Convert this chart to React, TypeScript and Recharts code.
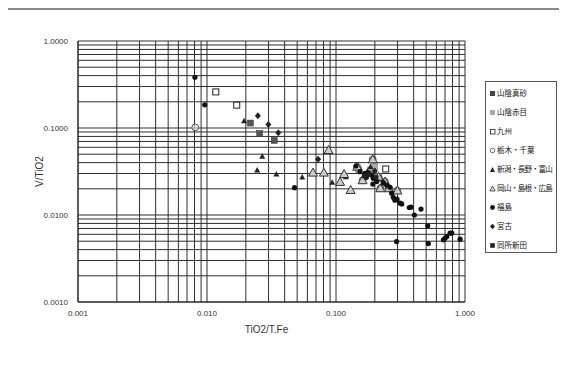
import React from 'react';
import { ScatterChart, Scatter, XAxis, YAxis, ReferenceLine } from 'recharts';

type P = { x: number; y: number };

const sanninMasa: P[] = [
  { x: 0.0217, y: 0.114 }, { x: 0.0256, y: 0.0866 }, { x: 0.0332, y: 0.072 },
];
const sanninAkame: P[] = [
  { x: 0.185, y: 0.033 }, { x: 0.196, y: 0.03 }, { x: 0.2, y: 0.036 },
];
const kyushu: P[] = [
  { x: 0.0117, y: 0.26 }, { x: 0.017, y: 0.183 }, { x: 0.243, y: 0.0338 },
];
const tochigiChiba: P[] = [
  { x: 0.0081, y: 0.1015 }, { x: 0.146, y: 0.0359 }, { x: 0.1926, y: 0.0436 },
  { x: 0.1607, y: 0.0251 }, { x: 0.2136, y: 0.0276 }, { x: 0.2206, y: 0.0203 },
  { x: 0.24, y: 0.0242 }, { x: 0.2576, y: 0.0203 }, { x: 0.299, y: 0.0191 },
  { x: 0.15, y: 0.033 },
];
const niigata: P[] = [
  { x: 0.0194, y: 0.121 }, { x: 0.0268, y: 0.0472 }, { x: 0.0245, y: 0.0329 },
  { x: 0.0345, y: 0.0296 }, { x: 0.0547, y: 0.0274 }, { x: 0.0933, y: 0.0238 },
  { x: 0.119, y: 0.0275 }, { x: 0.185, y: 0.036 }, { x: 0.175, y: 0.032 },
  { x: 0.225, y: 0.026 },
];
const okayama: P[] = [
  { x: 0.0875, y: 0.0558 }, { x: 0.0663, y: 0.0307 }, { x: 0.0805, y: 0.0307 },
  { x: 0.1076, y: 0.024 }, { x: 0.1298, y: 0.0194 }, { x: 0.1156, y: 0.0296 },
  { x: 0.1926, y: 0.0436 }, { x: 0.1607, y: 0.0251 }, { x: 0.2206, y: 0.0203 },
  { x: 0.2576, y: 0.0203 }, { x: 0.299, y: 0.0191 }, { x: 0.146, y: 0.0359 },
  { x: 0.2136, y: 0.0276 }, { x: 0.24, y: 0.0242 },
];
const fukushima: P[] = [
  { x: 0.00806, y: 0.383 }, { x: 0.0096, y: 0.1846 }, { x: 0.0477, y: 0.0206 },
  { x: 0.1427, y: 0.0366 }, { x: 0.1533, y: 0.0315 }, { x: 0.1676, y: 0.0301 },
  { x: 0.178, y: 0.0306 }, { x: 0.189, y: 0.0288 }, { x: 0.172, y: 0.0271 },
  { x: 0.1945, y: 0.0264 }, { x: 0.2066, y: 0.0242 }, { x: 0.193, y: 0.0227 },
  { x: 0.2326, y: 0.0235 }, { x: 0.2465, y: 0.0221 }, { x: 0.262, y: 0.0208 },
  { x: 0.27, y: 0.0178 }, { x: 0.278, y: 0.016 }, { x: 0.286, y: 0.0148 },
  { x: 0.297, y: 0.0152 }, { x: 0.313, y: 0.0137 }, { x: 0.323, y: 0.0134 },
  { x: 0.37, y: 0.0122 }, { x: 0.3816, y: 0.0123 }, { x: 0.405, y: 0.01 },
  { x: 0.456, y: 0.0117 }, { x: 0.514, y: 0.0075 }, { x: 0.295, y: 0.00495 },
  { x: 0.52, y: 0.0047 }, { x: 0.68, y: 0.00518 }, { x: 0.7, y: 0.0054 },
  { x: 0.723, y: 0.00565 }, { x: 0.766, y: 0.00618 }, { x: 0.79, y: 0.0062 },
  { x: 0.916, y: 0.00528 },
];
const miyako: P[] = [
  { x: 0.0248, y: 0.138 }, { x: 0.0299, y: 0.11 }, { x: 0.0357, y: 0.0882 },
  { x: 0.0727, y: 0.0436 }, { x: 0.2, y: 0.032 },
];
const dousho: P[] = [
  { x: 0.18, y: 0.029 }, { x: 0.205, y: 0.027 }, { x: 0.165, y: 0.028 },
];

const majorTicks = [0.001, 0.01, 0.1, 1];
const gridValues: number[] = [];
[0.001, 0.01, 0.1].forEach((b) => {
  for (let k = 1; k <= 9; k++) gridValues.push(+(b * k).toPrecision(3));
});
gridValues.push(1);

type ShapeKind = 'sqDark' | 'sqLight' | 'sqOpen' | 'circOpen' | 'triFill' | 'triOpen' | 'dot' | 'diamond' | 'sqSmall';

const drawMarker = (kind: ShapeKind, cx: number, cy: number) => {
  switch (kind) {
    case 'sqDark':
      return <rect x={cx - 3} y={cy - 3} width={6} height={6} fill="#555" stroke="#333" strokeWidth={0.5} />;
    case 'sqLight':
      return <rect x={cx - 3} y={cy - 3} width={6} height={6} fill="#aaa" stroke="#888" strokeWidth={0.5} />;
    case 'sqOpen':
      return <rect x={cx - 3} y={cy - 3} width={6} height={6} fill="#fff" stroke="#222" strokeWidth={1} />;
    case 'circOpen':
      return <circle cx={cx} cy={cy} r={3.4} fill="rgba(235,235,235,0.6)" stroke="#555" strokeWidth={1} />;
    case 'triFill':
      return <path d={`M${cx},${cy - 3} L${cx + 3},${cy + 2.5} L${cx - 3},${cy + 2.5} Z`} fill="#222" />;
    case 'triOpen':
      return <path d={`M${cx},${cy - 4.5} L${cx + 4.5},${cy + 3.5} L${cx - 4.5},${cy + 3.5} Z`} fill="#ccc" stroke="#333" strokeWidth={1} />;
    case 'dot':
      return <circle cx={cx} cy={cy} r={2.6} fill="#111" />;
    case 'diamond':
      return <path d={`M${cx},${cy - 3.5} L${cx + 3},${cy} L${cx},${cy + 3.5} L${cx - 3},${cy} Z`} fill="#222" />;
    case 'sqSmall':
      return <rect x={cx - 2.2} y={cy - 2.2} width={4.4} height={4.4} fill="#222" />;
  }
  return null;
};

const shapeOf = (kind: ShapeKind) => (props: any) => {
  const { cx, cy } = props;
  if (cx == null || cy == null) return <g />;
  return drawMarker(kind, cx, cy);
};

const seriesList: { name: string; data: P[]; kind: ShapeKind }[] = [
  { name: '山陰真砂', data: sanninMasa, kind: 'sqDark' },
  { name: '山陰赤目', data: sanninAkame, kind: 'sqLight' },
  { name: '九州', data: kyushu, kind: 'sqOpen' },
  { name: '栃木・千葉', data: tochigiChiba, kind: 'circOpen' },
  { name: '新潟・長野・富山', data: niigata, kind: 'triFill' },
  { name: '岡山・島根・広島', data: okayama, kind: 'triOpen' },
  { name: '福島', data: fukushima, kind: 'dot' },
  { name: '宮古', data: miyako, kind: 'diamond' },
  { name: '同所新田', data: dousho, kind: 'sqSmall' },
];

const legendMarker = (kind: ShapeKind) => {
  const small: Record<ShapeKind, React.ReactNode> = {
    sqDark: <rect x={1} y={1} width={5} height={5} fill="#444" />,
    sqLight: <rect x={1} y={1} width={5} height={5} fill="#aaa" />,
    sqOpen: <rect x={1.5} y={1.5} width={4.5} height={4.5} fill="#fff" stroke="#222" strokeWidth={0.8} />,
    circOpen: <circle cx={3.5} cy={3.5} r={2.3} fill="#fff" stroke="#444" strokeWidth={0.8} />,
    triFill: <path d="M3.5,1 L6,6 L1,6 Z" fill="#222" />,
    triOpen: <path d="M3.5,1 L6.2,6 L0.8,6 Z" fill="#ddd" stroke="#333" strokeWidth={0.8} />,
    dot: <circle cx={3.5} cy={3.5} r={2.4} fill="#111" />,
    diamond: <path d="M3.5,0.8 L6,3.5 L3.5,6.2 L1,3.5 Z" fill="#222" />,
    sqSmall: <rect x={1.2} y={1.2} width={4.6} height={4.6} fill="#222" />,
  };
  return (
    <svg width={7} height={7} style={{ display: 'block', flex: 'none' }}>
      {small[kind]}
    </svg>
  );
};

const XTitle = (props: any) => {
  const vb = props.viewBox || {};
  return (
    <text x={vb.x + vb.width / 2 - 5} y={vb.y + 31} textAnchor="middle" fontSize={10} fill="#333"
      fontFamily="'Liberation Sans', Arial, sans-serif">TiO2/T.Fe</text>
  );
};

const YTitle = (props: any) => {
  const vb = props.viewBox || {};
  const x = vb.x + 21;
  const y = vb.y + vb.height / 2;
  return (
    <text x={x} y={y} transform={`rotate(-90 ${x} ${y})`} textAnchor="middle" dominantBaseline="central"
      fontSize={10} fill="#333" fontFamily="'Liberation Sans', Arial, sans-serif">V/TiO2</text>
  );
};

export default function App() {
  const tickStyle = { fontSize: 8, fill: '#333', fontFamily: "'Liberation Sans', Arial, sans-serif" };
  return (
    <div style={{ position: 'relative', width: 567, height: 374, margin: -8, background: '#fff', overflow: 'hidden' }}>
      <div style={{ position: 'absolute', left: 6, top: 8, width: 570, height: 380, borderTop: '2px solid #8a8a8a', borderLeft: '2px solid #8a8a8a' }} />
      <div style={{ position: 'absolute', left: 0, top: 0 }}>
        <ScatterChart width={567} height={374} margin={{ top: 41, right: 102, bottom: 38, left: 18 }}>
          <XAxis
            type="number"
            dataKey="x"
            scale="log"
            domain={[0.001, 1]}
            ticks={majorTicks}
            tickFormatter={(v: number) => v.toFixed(3)}
            tick={tickStyle}
            tickLine={false}
            tickSize={6}
            tickMargin={2}
            axisLine={{ stroke: '#222' }}
            height={34}
            allowDataOverflow
            label={<XTitle />}
          />
          <YAxis
            type="number"
            dataKey="y"
            scale="log"
            domain={[0.001, 1]}
            ticks={majorTicks}
            tickFormatter={(v: number) => v.toFixed(4)}
            tick={tickStyle}
            tickLine={false}
            tickSize={6}
            tickMargin={4}
            axisLine={{ stroke: '#222' }}
            width={60}
            allowDataOverflow
            label={<YTitle />}
          />
          {gridValues.map((v) => (
            <ReferenceLine key={'gx' + v} x={v} stroke="#2e2e2e" strokeWidth={1} ifOverflow="extendDomain" />
          ))}
          {gridValues.map((v) => (
            <ReferenceLine key={'gy' + v} y={v} stroke="#2e2e2e" strokeWidth={1} ifOverflow="extendDomain" />
          ))}
          {seriesList.map((s) => (
            <Scatter key={s.name} name={s.name} data={s.data} shape={shapeOf(s.kind)} isAnimationActive={false} />
          ))}
        </ScatterChart>
      </div>
      <div
        style={{
          position: 'absolute', left: 485, top: 81, width: 72, height: 172,
          border: '1px solid #555', boxSizing: 'border-box', background: '#fff',
          fontFamily: "'Noto Sans CJK JP', sans-serif", fontSize: 7.5, color: '#111',
        }}
      >
        {seriesList.map((s, i) => (
          <div key={s.name} style={{ position: 'absolute', left: 3, top: 5 + i * 19, height: 12, display: 'flex', alignItems: 'center', whiteSpace: 'nowrap' }}>
            {legendMarker(s.kind)}
            <span style={{ marginLeft: 1, lineHeight: '12px', letterSpacing: s.name.length > 6 ? '-0.6px' : '0px' }}>{s.name}</span>
          </div>
        ))}
      </div>
    </div>
  );
}
